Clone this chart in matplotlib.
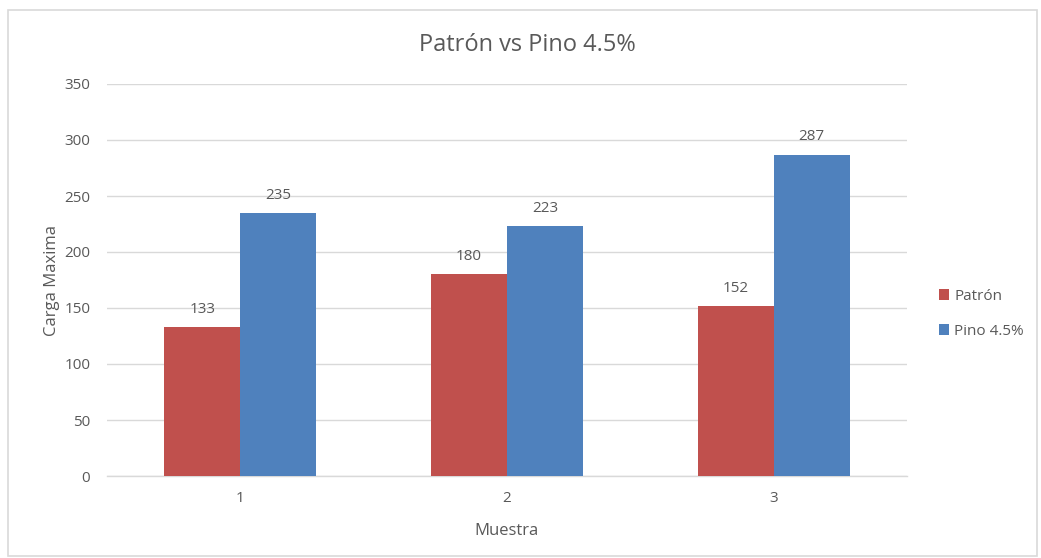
import matplotlib.pyplot as plt
import numpy as np
from matplotlib.patches import Rectangle

categories = ["1", "2", "3"]
series_names = ["Patrón", "Pino 4.5%"]
patron = [133, 180, 152]
pino = [235, 223, 287]
yticks = [0, 50, 100, 150, 200, 250, 300, 350]

RED = "#C0504D"
BLUE = "#4F81BD"
TXT = "#595959"
GRID = "#D9D9D9"

plt.rcParams['font.family'] = ['Open Sans', 'DejaVu Sans']

fig = plt.figure(figsize=(10.41, 5.58), dpi=100)
ax = fig.add_axes([107 / 1041, 1 - 476 / 558, 800 / 1041, (476 - 84) / 558])

x = np.arange(len(categories))
w = 0.285
b1 = ax.bar(x - w / 2, patron, w, color=RED, label=series_names[0], zorder=3)
b2 = ax.bar(x + w / 2, pino, w, color=BLUE, label=series_names[1], zorder=3)

for bars, vals in ((b1, patron), (b2, pino)):
    for r, v in zip(bars, vals):
        ax.text(r.get_x() + r.get_width() / 2, v + 9, f"{v}", ha="center",
                va="bottom", fontsize=11, color=TXT)

ax.set_xlim(-0.5, 2.5)
ax.set_ylim(0, 350)
ax.set_yticks(yticks)
ax.set_xticks(x)
ax.set_xticklabels(categories)
ax.tick_params(axis="both", length=0, colors=TXT, labelsize=11)
ax.tick_params(axis="y", pad=12)
ax.tick_params(axis="x", pad=11)
ax.grid(axis="y", color=GRID, linewidth=1, zorder=0)
for s in ("top", "right", "left"):
    ax.spines[s].set_visible(False)
ax.spines["bottom"].set_color(GRID)
ax.spines["bottom"].set_linewidth(1)

ax.set_ylabel("Carga Maxima", fontsize=12, color=TXT, labelpad=3)
ax.set_xlabel("Muestra", fontsize=12, color=TXT, labelpad=12)

fig.text(527 / 1041, 1 - 45 / 558, "Patrón vs Pino 4.5%", ha="center",
         va="center", fontsize=17, color=TXT)

leg = fig.legend(handles=[b1, b2], labels=series_names,
                 loc="center left", bbox_to_anchor=(925 / 1041, 1 - 314 / 558),
                 frameon=False, fontsize=11, handlelength=0.7, handleheight=0.7,
                 handletextpad=0.3, labelspacing=1.3, labelcolor=TXT)

fig.patches.append(Rectangle((8 / 1041, 1 - 556 / 558), 1029 / 1041, 546 / 558,
                             transform=fig.transFigure, fill=False,
                             edgecolor=GRID, linewidth=1.2))

fig.savefig("out.png", dpi=100)
